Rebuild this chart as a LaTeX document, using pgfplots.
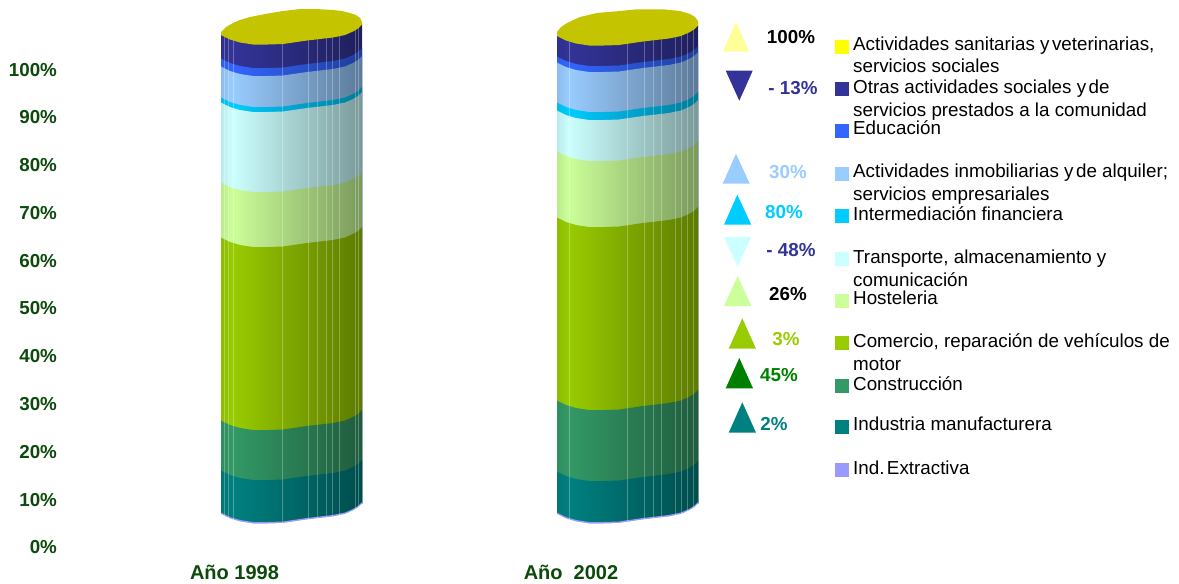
\documentclass[border=0pt]{standalone}
\usepackage{fontspec}
\setmainfont{Liberation Sans}
\usepackage{pgfplots}
\usepackage{pgfplotstable}
\pgfplotsset{compat=1.18}
\pgfplotstableread{
x nv ed in fi tr ho co cn te la bt
221 34.5 58.5 66.5 97.5 102.5 182.5 237.5 420.5 470.5 512.5 514
225 36.5 60.5 68.5 99.5 104.5 184.5 239.5 422.5 472.5 514.5 516
230 39 63 71 102 107 187 242 425 475 517 518.5
240 42 66 74 105 110 190 245 428 478 520 521.5
253 44 68 76 107 112 192 247 430 480 522 523.5
268 44 68 76 107 112 192 247 430 480 522 523.5
283 43.5 67.5 75.5 106.5 111.5 191.5 246.5 429.5 479.5 521.5 523
307 40 64 72 103 108 188 243 426 476 518 519.5
333 37 61 69 100 105 185 240 423 473 515 516.5
345 34.5 58.5 66.5 97.5 102.5 182.5 237.5 420.5 470.5 512.5 514
353 31 55 63 94 99 179 234 417 467 509 510.5
358 28 52 60 91 96 176 231 414 464 506 507.5
362 24 48 56 87 92 172 227 410 460 502 503.5
362 530 530 530 530 530 530 530 530 530 530 530
221 530 530 530 530 530 530 530 530 530 530 530
}\tA
\pgfplotstableread{
x nv ed in fi tr ho co cn te la bt
557 35.5 56.5 62.5 102.5 110.5 151.5 217.5 400.5 471.5 512.5 514
561 37.5 58.5 64.5 104.5 112.5 153.5 219.5 402.5 473.5 514.5 516
566 40 61 67 107 115 156 222 405 476 517 518.5
576 43 64 70 110 118 159 225 408 479 520 521.5
589 45 66 72 112 120 161 227 410 481 522 523.5
604 45 66 72 112 120 161 227 410 481 522 523.5
619 44.5 65.5 71.5 111.5 119.5 160.5 226.5 409.5 480.5 521.5 523
643 41 62 68 108 116 157 223 406 477 518 519.5
669 38 59 65 105 113 154 220 403 474 515 516.5
681 35.5 56.5 62.5 102.5 110.5 151.5 217.5 400.5 471.5 512.5 514
689 32 53 59 99 107 148 214 397 468 509 510.5
694 29 50 56 96 104 145 211 394 465 506 507.5
698 25 46 52 92 100 141 207 390 461 502 503.5
698 530 530 530 530 530 530 530 530 530 530 530
557 530 530 530 530 530 530 530 530 530 530 530
}\tB
\definecolor{cNv}{HTML}{333399}\definecolor{cNvD}{HTML}{1F1F5C}
\definecolor{cEd}{HTML}{3366FF}\definecolor{cEdD}{HTML}{1F3D99}
\definecolor{cIn}{HTML}{99CCFF}\definecolor{cInD}{HTML}{5C7A99}
\definecolor{cFi}{HTML}{00CCFF}\definecolor{cFiD}{HTML}{007A99}
\definecolor{cTr}{HTML}{CCFFFF}\definecolor{cTrD}{HTML}{7A9999}
\definecolor{cHo}{HTML}{CCFF99}\definecolor{cHoD}{HTML}{7A995C}
\definecolor{cCo}{HTML}{99CC00}\definecolor{cCoD}{HTML}{5C7A00}
\definecolor{cCn}{HTML}{339966}\definecolor{cCnD}{HTML}{1F5C3D}
\definecolor{cTe}{HTML}{008080}\definecolor{cTeD}{HTML}{004D4D}
\definecolor{cLa}{HTML}{9999FF}
\definecolor{cSa}{HTML}{FFFF00}
\definecolor{cSaT}{HTML}{FFFF99}
\definecolor{cTop}{HTML}{C4C400}
\definecolor{cGr}{HTML}{008000}
\definecolor{cTick}{HTML}{0B4A0B}
\newcommand{\mk}[1]{\pgfdeclarehorizontalshading{s#1}{100bp}{color(0bp)=(c#1!92!black); color(25bp)=(c#1!92!black); color(29bp)=(c#1); color(75bp)=(c#1D); color(100bp)=(c#1D)}}
\mk{Nv}\mk{Ed}\mk{In}\mk{Fi}\mk{Tr}\mk{Ho}\mk{Co}\mk{Cn}\mk{Te}
\newcommand{\band}[3]{\addplot[draw=none,shading=s#2,forget plot] table[x=x,y=#3] {#1};}
\newcommand{\leg}[2]{\node[anchor=base west,inner sep=0pt,text=black,font=\fontsize{18.8}{20}\selectfont] at (axis cs:853,#1) {\frenchspacing #2};}
\newcommand{\pct}[4]{\node[anchor=center,inner sep=0pt,text=#4,font=\fontsize{18.8}{20}\selectfont\bfseries] at (axis cs:#1,#2) {#3};}
\newcommand{\tri}[6]{\addplot[fill=#6,draw=none,forget plot] coordinates {(#1,#4) (#2,#4) (#3,#5)} -- cycle;}
\newcommand{\sw}[2]{\addplot[color=#2,only marks,mark=square*,mark size=6.5pt,line width=0pt,forget plot] coordinates {(841.5,#1)};}
\newcommand{\yy}{y\hspace{.13em}}
\begin{document}
\begin{tikzpicture}[x=1pt,y=1pt]
\useasboundingbox (0,0) rectangle (1179,584);
\begin{axis}[
  at={(60pt,29pt)},anchor=south west,scale only axis,
  width=1119pt,height=555pt,
  xmin=60,xmax=1179,ymin=0,ymax=555,y dir=reverse,
  axis line style={draw=none},tick style={draw=none},
  unbounded coords=jump,
  xtick={234.5,571},xticklabels={Año 1998,Año\ \ 2002},
  ytick={547,499.6,451.6,403.9,356.2,308.5,260.8,213.1,165.4,117.3,70},
  yticklabels={0\%,10\%,20\%,30\%,40\%,50\%,60\%,70\%,80\%,90\%,100\%},
  yticklabel style={font=\fontsize{18.8}{20}\selectfont\bfseries,text=cTick,xshift=0.5pt},
  xticklabel style={font=\fontsize{20}{22}\selectfont\bfseries,text=cTick,yshift=-7pt},
  ytick pos=left,xtick pos=bottom,
]
% cylinder 1998
\band{\tA}{Nv}{nv}\band{\tA}{Ed}{ed}\band{\tA}{In}{in}\band{\tA}{Fi}{fi}\band{\tA}{Tr}{tr}
\band{\tA}{Ho}{ho}\band{\tA}{Co}{co}\band{\tA}{Cn}{cn}\band{\tA}{Te}{te}
\addplot[fill=cLa,draw=none,forget plot] table[x=x,y=la] {\tA};
\addplot[white,opacity=.28,line width=.7pt,forget plot] coordinates {
 (224,36) (224,520) (224,nan) (228,36) (228,520) (228,nan) (233,36) (233,520) (233,nan)
 (282,36) (282,525) (282,nan) (308,36) (308,525) (308,nan) (317,34) (317,525) (317,nan)
 (326,34) (326,525) (326,nan) (332,34) (332,525) (332,nan) (339,30) (339,525) (339,nan)
 (355,24) (355,525) (355,nan) (358,24) (358,525)};
\addplot[fill=white,draw=none,forget plot] coordinates {
 (218,514) (221,514) (225,516) (230,518.5) (240,521.5) (253,523.5) (268,523.5) (283,523) (307,519.5) (333,516.5)
 (345,514) (353,510.5) (358,507.5) (362,503.5) (365,503.5) (365,535) (218,535)} -- cycle;
\addplot[fill=cTop,draw=none,forget plot] coordinates {
 (221,32) (226,27) (233,23) (240,20) (250,17) (265,14) (283,11) (300,9) (316,9) (333,10) (342,11) (350,13) (356,15) (360,18) (362,22)
 (362,24.5) (358,28.5) (353,31.5) (345,35) (333,37.5) (307,40.5) (283,44) (268,44.5) (253,44.5) (240,42.5) (230,39.5) (225,37) (221,35)} -- cycle;
% cylinder 2002
\band{\tB}{Nv}{nv}\band{\tB}{Ed}{ed}\band{\tB}{In}{in}\band{\tB}{Fi}{fi}\band{\tB}{Tr}{tr}
\band{\tB}{Ho}{ho}\band{\tB}{Co}{co}\band{\tB}{Cn}{cn}\band{\tB}{Te}{te}
\addplot[fill=cLa,draw=none,forget plot] table[x=x,y=la] {\tB};
\addplot[white,opacity=.28,line width=.7pt,forget plot] coordinates {
 (569.3,36) (569.3,525) (569.3,nan) (627.3,36) (627.3,525) (627.3,nan) (644.3,36) (644.3,525) (644.3,nan)
 (653.3,34) (653.3,525) (653.3,nan) (661.3,34) (661.3,525) (661.3,nan) (675.7,30) (675.7,525) (675.7,nan)
 (681,30) (681,525) (681,nan) (687.3,26) (687.3,525) (687.3,nan) (693.3,24) (693.3,525)};
\addplot[fill=white,draw=none,forget plot] coordinates {
 (554,514) (557,514) (561,516) (566,518.5) (576,521.5) (589,523.5) (604,523.5) (619,523) (643,519.5) (669,516.5)
 (681,514) (689,510.5) (694,507.5) (698,503.5) (701,503.5) (701,535) (554,535)} -- cycle;
\addplot[fill=cTop,draw=none,forget plot] coordinates {
 (557,32) (561,27) (567,23) (580,17) (597,13) (620,11) (637,9.3) (663,9.3) (680,11) (690,14) (695,17) (698,21)
 (698,25.5) (694,29.5) (689,32.5) (681,36) (669,38.5) (643,41.5) (619,45) (604,45.5) (589,45.5) (576,43.5) (566,40.5) (561,38) (557,36)} -- cycle;
% triangles
\tri{722.7}{749.3}{736}{51.7}{21.7}{cSaT}
\tri{725.7}{752.7}{739.3}{70.7}{100.7}{cNv}
\tri{722.7}{749.7}{736}{183.7}{153.7}{cIn}
\tri{724}{751.3}{737.3}{224.7}{194.7}{cFi}
\tri{724}{751.3}{737.7}{237}{266.7}{cTr}
\tri{724}{751.3}{737.7}{306}{276}{cHo}
\tri{728.7}{756}{742.3}{348.7}{318.3}{cCo}
\tri{725.7}{753}{739.3}{388.3}{358}{cGr}
\tri{728.7}{756}{742.3}{432.7}{402.3}{cTe}
% swatches
\sw{46.5}{cSa}\sw{89}{cNv}\sw{130.5}{cEd}\sw{173.5}{cIn}\sw{215.5}{cFi}\sw{258.5}{cTr}
\sw{300.5}{cHo}\sw{342.5}{cCo}\sw{385.5}{cCn}\sw{426.5}{cTe}\sw{469.5}{cLa}
% texts
\leg{50}{Actividades sanitarias \yy veterinarias,}
\leg{72}{servicios sociales}
\leg{93}{Otras actividades sociales \yy de}
\leg{116}{servicios prestados a la comunidad}
\leg{134}{Educación}
\leg{177}{Actividades inmobiliarias \yy de alquiler;}
\leg{200}{servicios empresariales}
\leg{220}{Intermediación financiera}
\leg{263}{Transporte, almacenamiento y}
\leg{286}{comunicación}
\leg{304}{Hosteleria}
\leg{347}{Comercio, reparación de vehículos de}
\leg{370}{motor}
\leg{390}{Construcción}
\leg{430}{Industria manufacturera}
\leg{474}{Ind.\hspace{.13em}Extractiva}
\pct{791}{37}{100\%}{black}
\pct{793}{88}{- 13\%}{cNv}
\pct{788}{172}{30\%}{cIn}
\pct{784}{212}{80\%}{cFi}
\pct{791}{250}{- 48\%}{cNv}
\pct{788}{294}{26\%}{black}
\pct{786}{339}{3\%}{cCo}
\pct{779}{375}{45\%}{cGr}
\pct{774}{424}{2\%}{cTe}
\end{axis}
\end{tikzpicture}
\end{document}
